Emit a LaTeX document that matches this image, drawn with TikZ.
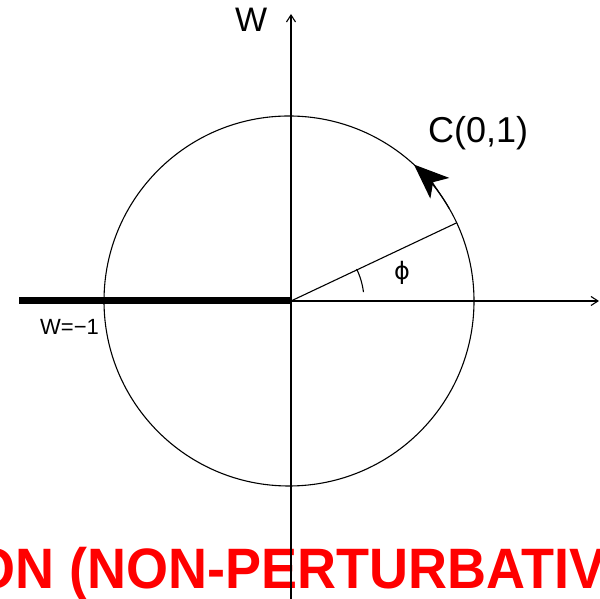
\documentclass[tikz,border=0pt]{standalone}
\usepackage{fontspec}
\setmainfont{Liberation Sans}
\newfontfamily\symfont{DejaVu Sans}
\usetikzlibrary{arrows.meta,calc}
\tikzset{
  axisline/.style={line width=1.1pt, -{Straight Barb[length=7pt,width=9pt]}},
  thinline/.style={line width=1.1pt},
  cutline/.style={line width=7pt},
  lbl/.style={inner sep=0pt, font=#1},
}
\begin{document}
\begin{tikzpicture}[x=1pt,y=1pt]
\useasboundingbox (0,0) rectangle (600,599);
\clip (0,0) rectangle (600,599);
% red caption (drawn first, axis passes over it)
\node[lbl={\fontsize{54}{54}\selectfont\bfseries}, text=red, anchor=base west, yscale=1.055] (cap) at (-27,10) {ON (NON-PERTURBATIV};
% coordinates
\coordinate (O) at (291,298);
\coordinate (C) at (289,298);
\coordinate (L) at (19,298);
\coordinate (R) at (599,298);
\coordinate (B) at (291,0);
\coordinate (T) at (291,585);
\coordinate (P) at ($(C)+(25:185)$);
% circle
\draw[thinline] (C) circle[radius=185];
% axes
\draw[axisline] (L) -- (R);
\draw[axisline] (B) -- (T);
% branch cut
\draw[cutline] (L) -- (O);
% radius and angle
\draw[thinline] (O) -- (P);
\draw[thinline] ($(O)+(7:73)$) arc[start angle=7, end angle=26, radius=73];
% arrow on contour
\draw[thinline, -{Stealth[length=35pt,width=28pt,inset=9pt]}] ($(C)+(30:185)$) arc[start angle=30, end angle=47.5, radius=185];
% labels
\node[lbl={\fontsize{34}{34}\selectfont}, anchor=base west] (w) at (235,567) {W};
\node[lbl={\fontsize{36}{36}\selectfont}, anchor=base west] (c) at (428,456) {C(0,1)};
\node[lbl={\fontsize{22}{22}\selectfont}, anchor=base west] (wm) at (40,264) {W=−1};
\node[lbl={\symfont\fontsize{24}{24}\selectfont}, anchor=center] (phi) at (402,326) {ϕ};
\end{tikzpicture}
\end{document}
